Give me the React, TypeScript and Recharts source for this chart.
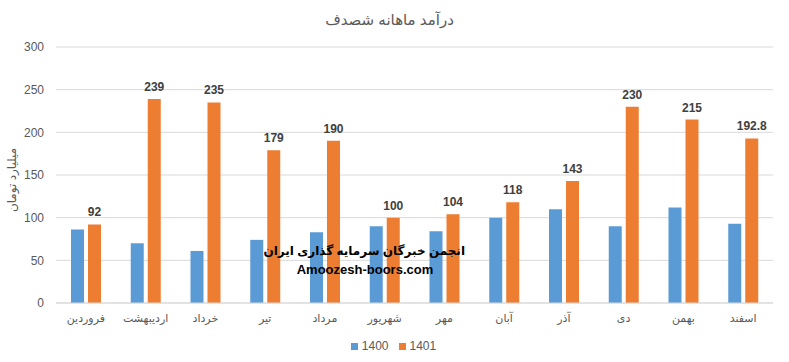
import React from "react";
import { BarChart, Bar, XAxis, YAxis, CartesianGrid, Legend, LabelList } from "recharts";

const months = ["فروردین", "اردیبهشت", "خرداد", "تیر", "مرداد", "شهریور", "مهر", "آبان", "آذر", "دی", "بهمن", "اسفند"];
const values1400 = [86, 70, 61, 74, 83, 90, 84, 100, 110, 90, 112, 93];
const values1401 = [92, 239, 235, 179, 190, 100, 104, 118, 143, 230, 215, 192.8];
const yTicks = [0, 50, 100, 150, 200, 250, 300];
const seriesNames = ["1400", "1401"];
const title = "درآمد ماهانه شصدف";
const yLabel = "میلیارد تومان";
const watermark1 = "انجمن خبرگان سرمایه گذاری ایران";
const watermark2 = "Amoozesh-boors.com";

const data = months.map((m, i) => ({ month: m, a: values1400[i], b: values1401[i] }));

const FONT = "'Liberation Sans', 'DejaVu Sans', sans-serif";
const GRAY = "#595959";

export default function App() {
  return (
    <div style={{ position: "absolute", left: 0, top: 0, width: 789, height: 362, background: "#fff", fontFamily: FONT }}>
      <BarChart
        width={789}
        height={362}
        data={data}
        margin={{ top: 47, right: 16, bottom: 0, left: 0 }}
        barGap={4}
      >
        <CartesianGrid vertical={false} stroke="#d9d9d9" />
        <XAxis
          dataKey="month"
          height={59}
          tickLine={false}
          tickSize={0}
          tickMargin={11}
          axisLine={{ stroke: "#d9d9d9" }}
          interval={0}
          tick={{ fill: GRAY, fontSize: 11, fontFamily: FONT }}
        />
        <YAxis
          width={56}
          domain={[0, 300]}
          ticks={yTicks}
          axisLine={false}
          tickLine={false}
          tickSize={0}
          tickMargin={12}
          tick={{ fill: GRAY, fontSize: 12, fontFamily: FONT }}
        />
        <Legend
          verticalAlign="middle"
          align="center"
          iconType="square"
          iconSize={7}
          wrapperStyle={{ top: 339, left: 4, width: 789, fontSize: 12, fontFamily: FONT }}
          formatter={(v: string) => <span style={{ color: GRAY }}>{v}</span>}
        />
        <Bar dataKey="a" name={seriesNames[0]} fill="#5B9BD5" barSize={13} isAnimationActive={false} />
        <Bar dataKey="b" name={seriesNames[1]} fill="#ED7D31" barSize={13} isAnimationActive={false}>
          <LabelList dataKey="b" position="top" offset={8} fill="#404040" fontSize={12} fontWeight="bold" fontFamily={FONT} />
        </Bar>
      </BarChart>
      <div style={{ position: "absolute", left: 0, top: 11, width: 779, textAlign: "center", fontSize: 15, color: GRAY, direction: "rtl" }}>
        {title}
      </div>
      <div style={{ position: "absolute", left: 12, top: 180, transform: "translate(-50%, -50%) rotate(-90deg)", whiteSpace: "nowrap", fontSize: 12, color: GRAY, direction: "rtl" }}>
        {yLabel}
      </div>
      <div style={{ position: "absolute", left: 265, top: 244, width: 200, textAlign: "center", fontSize: 12, fontWeight: "bold", color: "#000", direction: "rtl", whiteSpace: "nowrap" }}>
        {watermark1}
      </div>
      <div style={{ position: "absolute", left: 265, top: 262, width: 200, textAlign: "center", fontSize: 13, fontWeight: "bold", color: "#000", whiteSpace: "nowrap" }}>
        {watermark2}
      </div>
    </div>
  );
}
